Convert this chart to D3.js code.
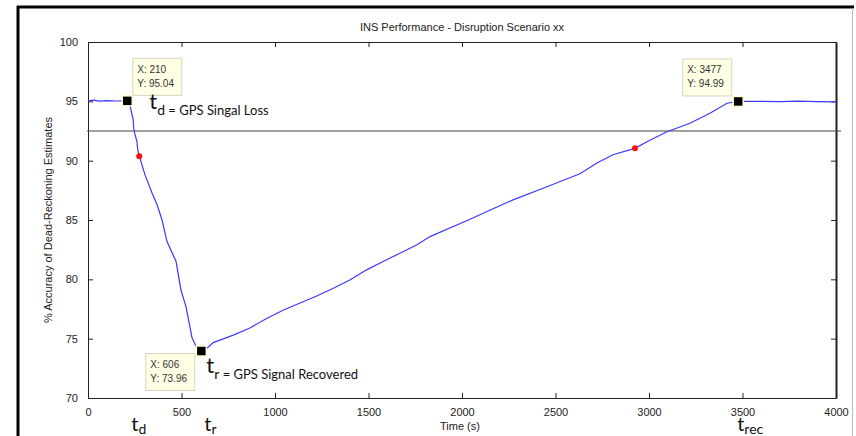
<!DOCTYPE html>
<html>
<head>
<meta charset="utf-8">
<style>
  body { margin: 0; background: #fff; }
  svg { display: block; }
  .tick text { font-family: "Liberation Sans", Arial, sans-serif; font-size: 11px; fill: #222; }
  .axis path, .axis line { stroke: #222; }
  .tip rect { fill: #ffffe6; stroke: #d6d6c0; }
  .tip text { font-family: "Liberation Sans", Arial, sans-serif; font-size: 10px; fill: #333; }
  .note { font-family: Lato, "Open Sans", sans-serif; fill: #111; }
</style>
</head>
<body>
<div id="chart"></div>
<script src="https://cdn.jsdelivr.net/npm/d3@7"></script>
<script>
// time (s) and accuracy (%)
var times = [0, 30, 60, 100, 150, 210, 225, 241, 246, 262, 266, 274, 305, 342, 369, 396, 422, 471, 497, 524, 556, 588, 606,
  636, 670, 777, 866, 955, 1043, 1134, 1223, 1312, 1400, 1490, 1578, 1668, 1757, 1829, 2043, 2187, 2273, 2454, 2631, 2722,
  2807, 2925, 2989, 3096, 3219, 3326, 3417, 3477, 3600, 3700, 3800, 3900, 4000];
var accuracy = [95.05, 95.1, 95.02, 95.06, 95.03, 95.04, 94.6, 93.5, 92.5, 91.6, 90.9, 90.4, 88.8, 87.3, 86.3, 85.0, 83.2, 81.5, 79.1, 77.7, 75.1, 74.0, 73.96,
  74.2, 74.67, 75.3, 75.9, 76.7, 77.4, 78.0, 78.6, 79.25, 79.95, 80.8, 81.5, 82.2, 82.9, 83.6, 85.06, 86.1, 86.7, 87.8, 88.9, 89.8,
  90.5, 91.04, 91.6, 92.44, 93.15, 94.0, 94.84, 94.99, 95.0, 94.98, 95.01, 94.97, 94.95];

var tipX = [210, 606, 3477];
var tipY = [95.04, 73.96, 94.99];
var redX = [274, 2925];
var redY = [90.37, 91.04];
var threshold = 92.5;

var xTicks = [0, 500, 1000, 1500, 2000, 2500, 3000, 3500, 4000];
var yTicks = [70, 75, 80, 85, 90, 95, 100];

var W = 856, H = 436;
var margin = {top: 42, right: 20, bottom: 38, left: 88};
var width = 836 - margin.left, height = 398 - margin.top;

var svg = d3.select("#chart").append("svg")
  .attr("width", W).attr("height", H);

// outer frame
svg.append("line").attr("x1", 17).attr("x2", 854).attr("y1", 7).attr("y2", 7)
  .attr("stroke", "#000").attr("stroke-width", 3);
svg.append("line").attr("x1", 18).attr("x2", 18).attr("y1", 6).attr("y2", H)
  .attr("stroke", "#000").attr("stroke-width", 3);
svg.append("line").attr("x1", 852.5).attr("x2", 852.5).attr("y1", 8).attr("y2", H)
  .attr("stroke", "#bbb").attr("stroke-width", 1);

var g = svg.append("g").attr("transform", "translate(" + margin.left + "," + margin.top + ")");

var x = d3.scaleLinear().domain([0, 4000]).range([0, width]);
var y = d3.scaleLinear().domain([70, 100]).range([height, 0]);

// axes with inward ticks
g.append("g").attr("class", "axis").attr("transform", "translate(0," + height + ")")
  .call(d3.axisBottom(x).tickValues(xTicks).tickFormat(d3.format("d")).tickSizeInner(-5).tickSizeOuter(0).tickPadding(10))
  .selectAll("text").attr("dy", "0.71em");
g.append("g").attr("class", "axis")
  .call(d3.axisTop(x).tickValues(xTicks).tickSizeInner(-5).tickSizeOuter(0).tickFormat(""));
g.append("g").attr("class", "axis")
  .call(d3.axisLeft(y).tickValues(yTicks).tickSizeInner(-5).tickSizeOuter(0).tickPadding(10));
g.append("g").attr("class", "axis").attr("transform", "translate(" + width + ",0)")
  .call(d3.axisRight(y).tickValues(yTicks).tickSizeInner(-5).tickSizeOuter(0).tickFormat(""))
  .select("path").attr("stroke", "#555").attr("stroke-width", 2);

// threshold line
g.append("line")
  .attr("x1", x(-5)).attr("x2", x(4027))
  .attr("y1", y(threshold)).attr("y2", y(threshold))
  .attr("stroke", "#444").attr("stroke-width", 1.2);

// trace
var pts = times.map(function (t, i) { return [t, accuracy[i]]; });
var line = d3.line().x(function (d) { return x(d[0]); }).y(function (d) { return y(d[1]); });
g.append("path").datum(pts)
  .attr("d", line).attr("fill", "none")
  .attr("stroke", "#3a3aff").attr("stroke-width", 1.2);

// red points
g.selectAll(".red").data(redX).enter().append("circle")
  .attr("cx", function (d) { return x(d); })
  .attr("cy", function (d, i) { return y(redY[i]); })
  .attr("r", 3).attr("fill", "#ff1010");

// data tips
var tipOffset = [[5, -43], [-56, 2], [-56, -43]];
tipX.forEach(function (t, i) {
  var px = x(t), py = y(tipY[i]);
  var tg = g.append("g").attr("class", "tip")
    .attr("transform", "translate(" + (px + tipOffset[i][0]) + "," + (py + tipOffset[i][1]) + ")");
  tg.append("rect").attr("x", 0.5).attr("y", 0.5).attr("width", 49).attr("height", 37);
  tg.append("text").attr("x", 5).attr("y", 15).text("X: " + t);
  tg.append("text").attr("x", 5).attr("y", 29).text("Y: " + tipY[i].toFixed(2));
  g.append("rect")
    .attr("x", px - 5).attr("y", py - 5).attr("width", 10).attr("height", 10)
    .attr("fill", "#000").attr("stroke", "#ffffd0").attr("stroke-width", 1.5);
});

// title and labels
svg.append("text").attr("x", margin.left + width / 2).attr("y", 31)
  .attr("text-anchor", "middle")
  .style("font-family", "Liberation Sans, Arial, sans-serif").style("font-size", "11px").style("fill", "#222")
  .text("INS Performance - Disruption Scenario xx");
svg.append("text").attr("x", margin.left + width / 2 - 2).attr("y", 430)
  .attr("text-anchor", "middle")
  .style("font-family", "Liberation Sans, Arial, sans-serif").style("font-size", "11px").style("fill", "#222")
  .text("Time (s)");
svg.append("text")
  .attr("transform", "translate(52," + (margin.top + height / 2) + ") rotate(-90)")
  .attr("text-anchor", "middle")
  .style("font-family", "Liberation Sans, Arial, sans-serif").style("font-size", "11px").style("fill", "#222")
  .text("% Accuracy of Dead-Reckoning Estimates");

// annotations
function note(px, py, sub, rest, subDy, big) {
  var t = svg.append("text").attr("class", "note").attr("x", px).attr("y", py);
  t.append("tspan").style("font-size", (big || 22) + "px").text("t");
  t.append("tspan").style("font-size", "14px").attr("dy", subDy || 6).text(sub);
  if (rest) t.append("tspan").style("font-size", "13px").text(" " + rest);
}
note(margin.left + x(210) + 22, margin.top + y(95.04) + 8, "d", "= GPS Singal Loss");
note(margin.left + x(606) + 5, margin.top + y(73.96) + 22, "r", "= GPS Signal Recovered");
note(margin.left + x(210) + 4, 431, "d", null, 3, 20);
note(margin.left + x(606) + 3, 431, "r", null, 3, 20);
note(margin.left + x(3477) - 1, 431, "rec", null, 3, 20);
</script>
</body>
</html>
